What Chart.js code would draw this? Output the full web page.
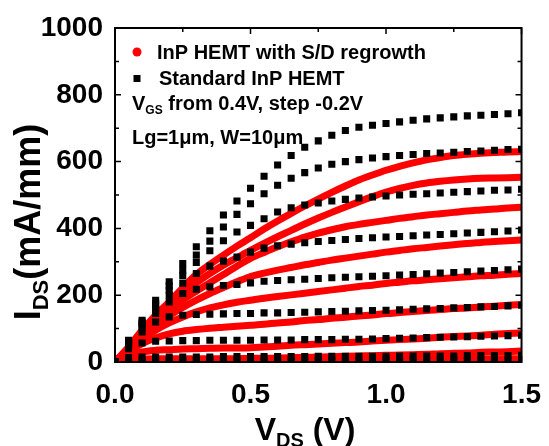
<!DOCTYPE html>
<html>
<head>
<meta charset="utf-8">
<script src="https://cdn.jsdelivr.net/npm/chart.js@4.4.0/dist/chart.umd.min.js"></script>
<style>
  body { margin: 0; background: #fff; }
  #wrap { width: 549px; height: 446px; position: relative; }
</style>
</head>
<body>
<div id="wrap"><canvas id="ivChart"></canvas></div>
<script>
// drain voltage points (V), same for every curve
const vds = [0, 0.05, 0.1, 0.15, 0.2, 0.25, 0.3, 0.35, 0.4, 0.45, 0.5,
  0.55, 0.6, 0.65, 0.7, 0.75, 0.8, 0.85, 0.9, 0.95, 1.0,
  1.05, 1.1, 1.15, 1.2, 1.25, 1.3, 1.35, 1.4, 1.45, 1.5];

const vgsSteps = ["0.4", "0.2", "0", "-0.2", "-0.4", "-0.6", "-0.8", "-1.0", "-1.2"];

// InP HEMT with S/D regrowth, IDS in mA/mm (red)
const reg_04 = [0, 45, 95, 140, 180, 222, 262, 292, 320, 347, 372, 398, 422, 445, 467, 488, 508, 527, 545, 560, 574, 586, 596, 605, 612, 618, 622, 625, 627, 629, 630];
const reg_02 = [0, 43, 88, 130, 168, 203, 237, 265, 290, 312, 334, 355, 375, 394, 413, 431, 448, 464, 480, 495, 509, 520, 529, 536, 541, 545, 548, 550, 551, 552, 553];
const reg_00 = [0, 40, 80, 118, 153, 185, 212, 237, 262, 287, 310, 328, 345, 360, 374, 386, 396, 405, 412, 418, 424, 430, 435, 440, 444, 448, 452, 455, 458, 461, 463];
const reg_m02 = [0, 38, 75, 108, 138, 163, 185, 205, 223, 240, 256, 266, 275, 283, 291, 298, 305, 311, 317, 323, 329, 334, 339, 343, 347, 351, 355, 358, 361, 363, 365];
const reg_m04 = [0, 35, 68, 95, 117, 135, 150, 162, 171, 179, 185, 191, 196, 201, 206, 211, 216, 221, 226, 230, 235, 239, 243, 246, 249, 252, 255, 258, 260, 263, 265];
const reg_m06 = [0, 30, 55, 72, 84, 92, 97, 101, 104, 107, 110, 113, 117, 120, 124, 127, 131, 134, 138, 141, 145, 148, 151, 154, 157, 160, 162, 165, 167, 170, 172];
const reg_m08 = [0, 18, 30, 35, 37, 39, 40, 41, 42, 42, 43, 45, 47, 50, 52, 54, 56, 58, 60, 63, 65, 67, 69, 71, 74, 76, 78, 80, 83, 85, 87];
const reg_m10 = [0, 7, 9, 10, 10, 10, 10, 10, 10, 10, 11, 11, 12, 13, 14, 15, 16, 17, 18, 19, 20, 21, 22, 23, 25, 26, 27, 29, 30, 31, 33];
const reg_m12 = [0, 2, 3, 3, 3, 4, 4, 4, 4, 5, 5, 5, 5, 6, 6, 6, 6, 7, 7, 7, 7, 8, 8, 8, 8, 9, 9, 9, 9, 10, 10];

// Standard InP HEMT, IDS in mA/mm (black squares)
const std_04 = [0, 65, 125, 185, 240, 295, 345, 393, 440, 482, 520, 556, 590, 618, 643, 662, 679, 693, 703, 709, 714, 719, 724, 728, 731, 734, 737, 739, 741, 743, 746];
const std_02 = [0, 63, 120, 175, 228, 275, 320, 362, 404, 442, 474, 504, 529, 550, 567, 581, 592, 600, 606, 611, 615, 618, 621, 624, 626, 628, 630, 632, 634, 636, 637];
const std_00 = [0, 60, 115, 168, 215, 258, 298, 333, 363, 389, 409, 429, 449, 462, 470, 476, 482, 487, 491, 494, 497, 500, 502, 504, 506, 508, 510, 512, 514, 515, 517];
const std_m02 = [0, 58, 110, 158, 200, 236, 265, 287, 302, 314, 329, 341, 348, 353, 357, 361, 364, 367, 370, 372, 374, 376, 378, 380, 382, 384, 386, 388, 390, 392, 395];
const std_m04 = [0, 55, 103, 145, 180, 205, 218, 225, 229, 232, 237, 242, 244, 246, 248, 250, 252, 254, 255, 257, 258, 260, 262, 264, 266, 268, 270, 272, 274, 276, 278];
const std_m06 = [0, 50, 90, 120, 135, 140, 142, 143, 144, 145, 145, 147, 147, 148, 149, 150, 151, 152, 153, 154, 155, 156, 158, 159, 160, 162, 163, 165, 166, 168, 170];
const std_m08 = [0, 40, 57, 62, 63, 64, 64, 65, 65, 65, 65, 66, 66, 66, 67, 67, 67, 68, 68, 69, 70, 71, 72, 73, 74, 75, 76, 77, 78, 79, 80];
const std_m10 = [0, 13, 15, 15, 15, 15, 15, 15, 16, 16, 16, 16, 16, 16, 16, 17, 17, 17, 17, 17, 17, 18, 18, 18, 18, 18, 19, 19, 19, 19, 20];
const std_m12 = [0, 3, 4, 4, 4, 4, 4, 4, 4, 4, 4, 4, 5, 5, 5, 5, 5, 5, 5, 5, 5, 5, 5, 5, 5, 5, 5, 6, 6, 6, 6];

const regCurves = [reg_04, reg_02, reg_00, reg_m02, reg_m04, reg_m06, reg_m08, reg_m10, reg_m12];
const stdCurves = [std_04, std_02, std_00, std_m02, std_m04, std_m06, std_m08, std_m10, std_m12];

const FONT = "'Liberation Sans', Arial, sans-serif";

function createPoints(ys) {
  const XY = [];
  for (let i = 0; i < vds.length; i++) {
    XY.push({ x: vds[i], y: ys[i] });
  }
  return XY;
}

const datasets = [];
// black first so the squares sit on top of the red bands
stdCurves.forEach((ys, i) => {
  datasets.push({
    label: "Standard VGS=" + vgsSteps[i],
    data: createPoints(ys),
    showLine: false,
    pointStyle: "rect",
    pointRadius: 5,
    pointBorderWidth: 0,
    pointBackgroundColor: "#000000",
  });
});
regCurves.forEach((ys, i) => {
  datasets.push({
    label: "Regrowth VGS=" + vgsSteps[i],
    data: createPoints(ys),
    showLine: true,
    borderColor: "#ff0000",
    borderWidth: 7,
    cubicInterpolationMode: "monotone",
    pointRadius: 0,
  });
});

// draw text with a subscript part, returns end x
function textWithSub(ctx, x, y, parts, size) {
  let cx = x;
  for (const p of parts) {
    const fs = p.sub ? Math.round(size * 0.62) : size;
    ctx.font = "bold " + fs + "px " + FONT;
    ctx.fillText(p.t, cx, y + (p.sub ? size * 0.22 : 0));
    cx += ctx.measureText(p.t).width;
  }
  return cx;
}

function partsWidth(ctx, parts, size) {
  let w = 0;
  for (const p of parts) {
    const fs = p.sub ? Math.round(size * 0.62) : size;
    ctx.font = "bold " + fs + "px " + FONT;
    w += ctx.measureText(p.t).width;
  }
  return w;
}

const framePlugin = {
  id: "framePlugin",
  afterDraw(chart) {
    const ctx = chart.ctx;
    const a = chart.chartArea;
    const xs = chart.scales.x, ys = chart.scales.y;
    ctx.save();
    ctx.strokeStyle = "#000";
    ctx.fillStyle = "#000";
    ctx.lineWidth = 2;
    ctx.strokeRect(a.left, a.top, a.right - a.left, a.bottom - a.top);

    // inward ticks on all four sides
    ctx.lineWidth = 1.5;
    ctx.beginPath();
    for (let v = 0; v <= 1.5001; v += 0.25) {
      const px = xs.getPixelForValue(v);
      const len = Math.abs(v / 0.5 - Math.round(v / 0.5)) < 0.01 ? 6 : 4;
      ctx.moveTo(px, a.bottom); ctx.lineTo(px, a.bottom - len);
      ctx.moveTo(px, a.top); ctx.lineTo(px, a.top + len);
    }
    for (let v = 0; v <= 1000; v += 100) {
      const py = ys.getPixelForValue(v);
      const len = v % 200 === 0 ? 6 : 4;
      ctx.moveTo(a.left, py); ctx.lineTo(a.left + len, py);
      ctx.moveTo(a.right, py); ctx.lineTo(a.right - len, py);
    }
    ctx.stroke();

    // legend and notes
    ctx.textBaseline = "alphabetic";
    ctx.textAlign = "left";
    ctx.fillStyle = "#ff0000";
    ctx.beginPath();
    ctx.arc(137, 52, 4.5, 0, Math.PI * 2);
    ctx.fill();
    ctx.fillStyle = "#000";
    ctx.fillRect(133.5, 75, 7, 7);
    ctx.font = "bold 20px " + FONT;
    ctx.fillText("InP HEMT with S/D regrowth", 157, 59);
    ctx.fillText("Standard InP HEMT", 159, 85);
    textWithSub(ctx, 132, 110, [{ t: "V" }, { t: "GS", sub: true }, { t: " from 0.4V, step -0.2V" }], 20);
    ctx.font = "bold 20px " + FONT;
    ctx.fillText("Lg=1\u03bcm, W=10\u03bcm", 132, 144);

    // axis titles
    const xParts = [{ t: "V" }, { t: "DS", sub: true }, { t: " (V)" }];
    const xw = partsWidth(ctx, xParts, 32);
    textWithSub(ctx, 305 - xw / 2, 440, xParts, 32);

    const yParts = [{ t: "I" }, { t: "DS", sub: true }, { t: "(mA/mm)" }];
    const yw = partsWidth(ctx, yParts, 36);
    ctx.translate(40, 222);
    ctx.rotate(-Math.PI / 2);
    textWithSub(ctx, -yw / 2, 0, yParts, 36);
    ctx.restore();
  }
};

function createGraph(chartID) {
  const tickFont = { family: FONT, size: 28, weight: "bold" };
  const myChart = new Chart(chartID, {
    type: "scatter",
    data: { datasets: datasets },
    options: {
      responsive: true,
      maintainAspectRatio: false,
      animation: false,
      layout: { padding: { top: 28, right: 23, left: 0, bottom: 0 } },
      plugins: { legend: { display: false }, tooltip: { enabled: false } },
      scales: {
        x: {
          type: "linear", min: 0, max: 1.5,
          grid: { display: false },
          border: { display: false },
          ticks: { stepSize: 0.5, font: tickFont, color: "#000", padding: 8,
            callback: v => v.toFixed(1) },
          afterFit: s => { s.height = 84; }
        },
        y: {
          min: 0, max: 1000,
          grid: { display: false },
          border: { display: false },
          ticks: { stepSize: 200, font: tickFont, color: "#000", padding: 4,
            callback: v => String(v) },
          afterFit: s => { s.width = 115; }
        }
      }
    },
    plugins: [framePlugin]
  });
  return myChart;
}

createGraph("ivChart");
</script>
</body>
</html>
